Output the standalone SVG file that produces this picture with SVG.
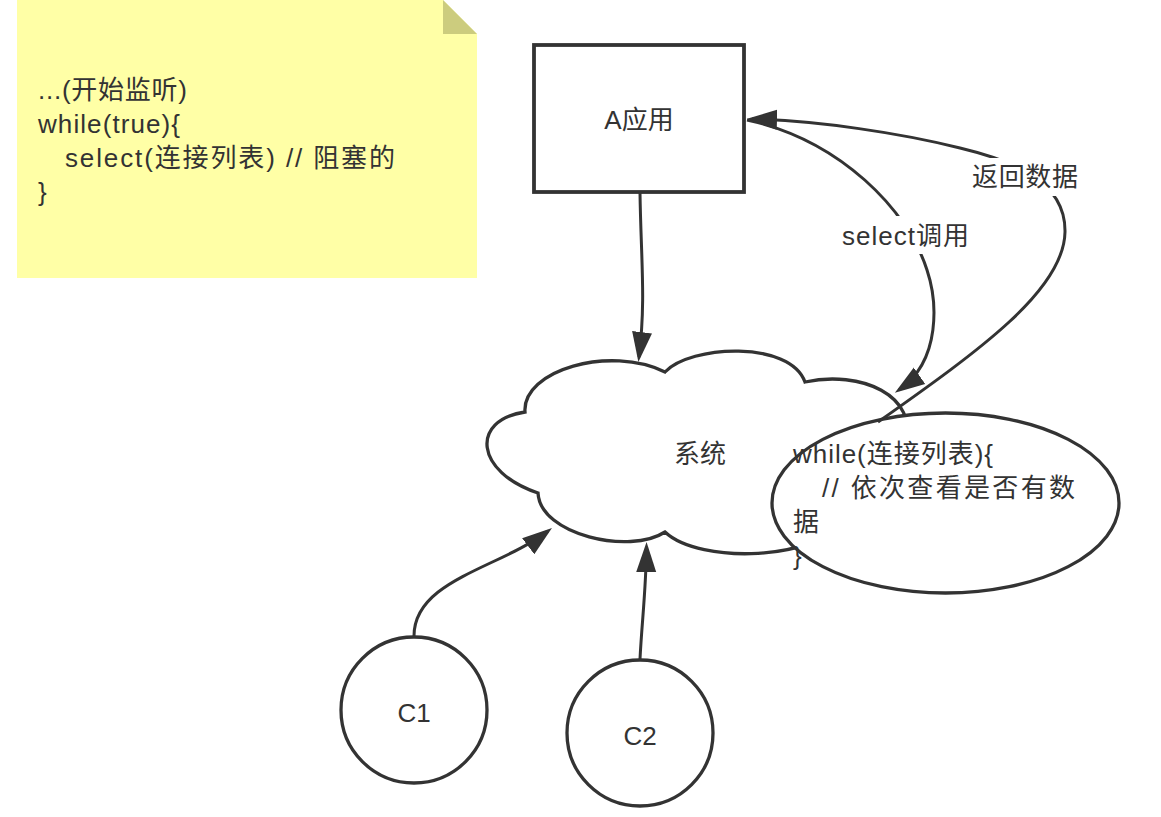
<svg xmlns="http://www.w3.org/2000/svg" width="1161" height="817" viewBox="0 0 1161 817">
<defs>
<style>
.t{font-family:"Liberation Sans","Noto Sans CJK SC",sans-serif;font-size:26px;fill:#333}
.m{text-anchor:middle}
.s{fill:#fff;stroke:#333;stroke-width:3.3}
.c{fill:none;stroke:#333;stroke-width:3}
</style>
<marker id="arr" markerUnits="userSpaceOnUse" markerWidth="32" markerHeight="22" refX="25" refY="11" orient="auto">
<path d="M0,1 L30,11 L0,21 Z" fill="#333"/>
</marker>
</defs>
<rect width="1161" height="817" fill="#fff"/>

<g id="note">
<path d="M17,0 L443,0 L477,34 L477,278 L17,278 Z" fill="#ffffa6"/>
<path d="M443,0 L477,34 L443,34 Z" fill="#cccc7e"/>
<text class="t" x="38" y="99" textLength="149" lengthAdjust="spacing">...(开始监听)</text>
<text class="t" x="38" y="133" textLength="142" lengthAdjust="spacing">while(true){</text>
<text class="t" x="65" y="167" textLength="330" lengthAdjust="spacing">select(连接列表) // 阻塞的</text>
<text class="t" x="38" y="201">}</text>
</g>

<g id="nodeA">
<rect class="s" x="534" y="45" width="210" height="147" style="stroke-width:3.8"/>
<text class="t m" x="639" y="129">A应用</text>
</g>

<g id="cloud">
<path class="s" d="M525,412 C522,370 610,345 665,372 C690,345 790,340 805,382 C860,370 920,395 905,445 C935,480 900,525 840,520 C820,560 700,565 665,532 C630,555 540,535 538,493 C475,472 470,420 525,412 Z"/>
<text class="t m" x="700" y="463">系统</text>
</g>

<g id="loop">
<ellipse class="s" cx="945.5" cy="503" rx="173.5" ry="90"/>
<text class="t" x="793" y="463" textLength="200" lengthAdjust="spacing">while(连接列表){</text>
<text class="t" x="822" y="497" textLength="253" lengthAdjust="spacing">// 依次查看是否有数</text>
<text class="t" x="793" y="531">据</text>
<text class="t" x="793" y="565">}</text>
</g>

<g id="c1">
<circle class="s" cx="414" cy="710" r="73"/>
<text class="t m" x="414" y="722">C1</text>
</g>

<g id="c2">
<circle class="s" cx="640" cy="733" r="73"/>
<text class="t m" x="640" y="745">C2</text>
</g>

<g id="connectors">
<path class="c" d="M640,193 C641,260 646,300 639,357" marker-end="url(#arr)"/>
<path class="c" d="M414,636 C414,580 500,568 548,531" marker-end="url(#arr)"/>
<path class="c" d="M640,659 C642,620 646,590 646.5,547" marker-end="url(#arr)"/>
<path class="c" d="M747,120 C840,140 908,210 927,270 C937,300 942,360 899,390" marker-end="url(#arr)"/>
<path class="c" d="M878,422 C980,350 1064,290 1065,232 C1066,180 1010,160 960,148 C900,133 820,121 752,119" marker-end="url(#arr)"/>
<rect x="838" y="216" width="136" height="38" fill="#fff"/>
<text class="t" x="842" y="245" textLength="127" lengthAdjust="spacing">select调用</text>
<rect x="966" y="158" width="118" height="38" fill="#fff"/>
<text class="t" x="972" y="186" textLength="106" lengthAdjust="spacing">返回数据</text>
</g>
</svg>
